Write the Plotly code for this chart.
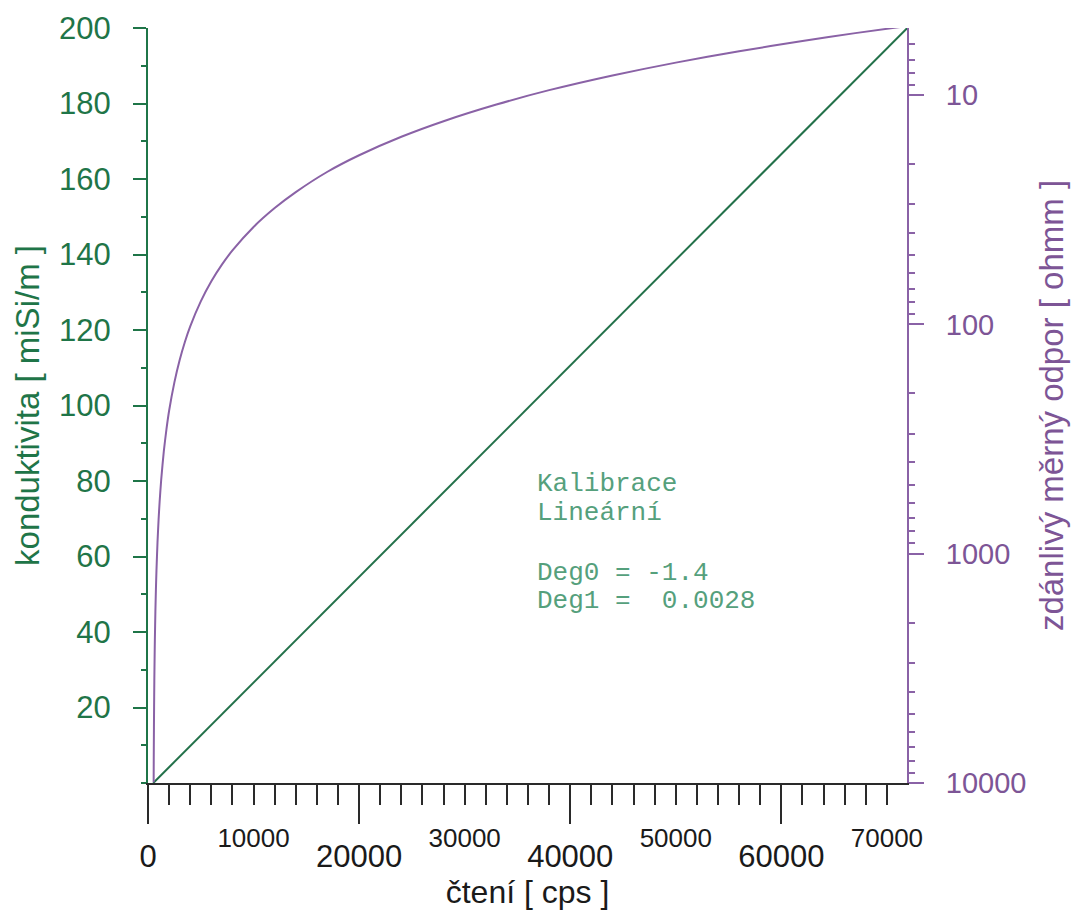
import plotly.graph_objects as go

# ---- data ----
cps_lin = [500, 71929]
cond_lin = [0, 200]

cps_res = [536, 545, 555, 570, 585, 600, 625, 650, 700, 750, 800, 900, 1000, 1100,
           1250, 1500, 1750, 2000, 2500, 3000, 3500, 4000, 5000, 6000, 7000, 8000,
           10000, 12000, 14000, 17000, 20000, 24000, 28000, 33000, 38000, 44000,
           50000, 56000, 62000, 67000, 71929]
res = [9921, 7937, 6494, 5102, 4202, 3571, 2857, 2381, 1786, 1429, 1190, 893, 714, 595,
       476, 357, 286, 238, 179, 143, 119, 102, 79.4, 64.9, 54.9, 47.6,
       37.6, 31.1, 26.5, 21.6, 18.3, 15.2, 13.0, 11.0, 9.52, 8.21,
       7.22, 6.44, 5.81, 5.37, 5.0]

x_major = [0, 20000, 40000, 60000]
x_minor_labels = [10000, 30000, 50000, 70000]
y_left_ticks = [20, 40, 60, 80, 100, 120, 140, 160, 180, 200]
y_right_ticks = [10, 100, 1000, 10000]

note_lines = ["Kalibrace", "Lineární", "Deg0 = -1.4", "Deg1 =\u00a0\u00a00.0028"]
note_y = [79.3, 71.6, 55.7, 48.3]
note_x = 36700

GREEN = "#1f7548"
GREEN_LINE = "#23714a"
GREEN_TXT = "#55a07c"
PURPLE = "#7d5596"
PURPLE_LINE = "#8a62a6"
DARK = "#2a2a2a"
FONT = "Liberation Sans, Arial, sans-serif"

fig = go.Figure()
fig.add_trace(go.Scatter(x=cps_lin, y=cond_lin, mode="lines",
                         line=dict(color=GREEN_LINE, width=2), xaxis="x", yaxis="y",
                         hoverinfo="skip", showlegend=False))
fig.add_trace(go.Scatter(x=cps_res, y=res, mode="lines",
                         line=dict(color=PURPLE_LINE, width=2, shape="spline", smoothing=0.6),
                         xaxis="x", yaxis="y2", hoverinfo="skip", showlegend=False))
fig.add_trace(go.Scatter(x=[0], y=[0], mode="markers", marker=dict(opacity=0),
                         xaxis="x3", yaxis="y", hoverinfo="skip", showlegend=False))

XR = [0, 71900]

for txt, yy in zip(note_lines, note_y):
    fig.add_annotation(x=note_x, y=yy, xref="x", yref="y", text=txt, showarrow=False,
                       xanchor="left", yanchor="middle",
                       font=dict(family="Liberation Mono, Courier New, monospace",
                                 size=26, color=GREEN_TXT))

fig.update_layout(
    width=1075, height=913,
    margin=dict(l=148, r=168, t=28, b=130),
    paper_bgcolor="white", plot_bgcolor="white",
    font=dict(family=FONT),
    xaxis=dict(range=XR, showgrid=False, zeroline=False,
               showline=True, linecolor=DARK, linewidth=2,
               tickmode="array", tickvals=x_major, ticktext=[str(v) for v in x_major],
               ticks="outside", ticklen=39, tickwidth=2, tickcolor=DARK,
               tickfont=dict(size=31, color="#1a1a1a"), ticklabelstandoff=6,
               minor=dict(tickmode="linear", tick0=0, dtick=2000, ticks="outside",
                          ticklen=20, tickwidth=2, tickcolor=DARK, showgrid=False),
               title=dict(text="čtení [ cps ]", font=dict(size=32, color="#1a1a1a"),
                          standoff=2),
               fixedrange=True),
    xaxis3=dict(range=XR, overlaying="x", anchor="y", side="bottom",
                showgrid=False, zeroline=False, showline=False,
                tickmode="array", tickvals=x_minor_labels,
                ticktext=[str(v) for v in x_minor_labels],
                ticks="", tickfont=dict(size=26, color="#1a1a1a"),
                ticklabelstandoff=37, fixedrange=True),
    yaxis=dict(range=[0, 200], showgrid=False, zeroline=False,
               showline=True, linecolor=GREEN, linewidth=2,
               tickmode="array", tickvals=y_left_ticks,
               ticks="outside", ticklen=13, tickwidth=2, tickcolor=GREEN,
               tickfont=dict(size=31, color=GREEN), ticklabelstandoff=16,
               minor=dict(tickmode="linear", tick0=0, dtick=10, ticks="outside",
                          ticklen=5, tickwidth=2, tickcolor=GREEN, showgrid=False),
               title=dict(text="konduktivita [ miSi/m ]", font=dict(size=33, color=GREEN),
                          standoff=10),
               fixedrange=True),
    yaxis2=dict(type="log", range=[4, 0.7076], overlaying="y", side="right", anchor="x",
                showgrid=False, zeroline=False,
                showline=True, linecolor=PURPLE_LINE, linewidth=2,
                tickmode="array", tickvals=y_right_ticks,
                ticktext=[str(v) for v in y_right_ticks],
                ticks="outside", ticklen=15, tickwidth=2, tickcolor=PURPLE_LINE,
                tickfont=dict(size=29, color=PURPLE), ticklabelstandoff=16,
                minor=dict(dtick="D1", ticks="outside", ticklen=6, tickwidth=2,
                           tickcolor=PURPLE_LINE, showgrid=False),
                title=dict(text="zdánlivý měrný odpor [ ohmm ]",
                           font=dict(size=33, color=PURPLE), standoff=14),
                fixedrange=True),
)

fig.write_html("out.html", config={"displayModeBar": False})
